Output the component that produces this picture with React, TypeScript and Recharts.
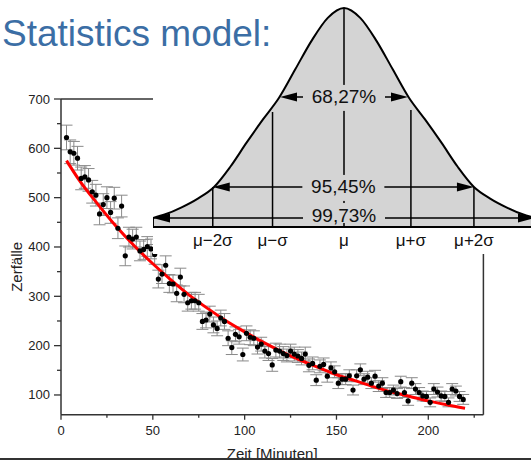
import React from "react";
import {
  ComposedChart,
  Scatter,
  ErrorBar,
  Line,
  XAxis,
  YAxis,
  Label,
  AreaChart,
  Area,
  ReferenceLine,
} from "recharts";

/* ---------- DATA: decay measurement ---------- */
const minutes = [
  3, 5, 7, 9, 11, 13, 15, 17, 19, 21, 23, 25, 27, 29, 31, 33, 35, 37, 39, 41,
  43, 45, 47, 49, 51, 53, 55, 57, 59, 61, 63, 65, 67, 69, 71, 73, 75, 77, 79, 81,
  83, 85, 87, 89, 91, 93, 95, 97, 99, 101, 103, 105, 107, 109, 111, 113, 115, 117,
  119, 121, 123, 125, 127, 129, 131, 133, 135, 137, 139, 141, 143, 145, 147, 149,
  151, 153, 155, 157, 159, 161, 163, 165, 167, 169, 171, 173, 175, 177, 179, 181,
  183, 185, 187, 189, 191, 193, 195, 197, 199, 201, 203, 205, 207, 209, 211, 213,
  215, 217, 219,
];

const counts = [
  622, 593, 590, 580, 539, 542, 536, 512, 505, 467, 486, 500, 470, 499, 438, 483,
  382, 420, 416, 420, 392, 395, 401, 396, 385, 335, 345, 363, 326, 325, 306, 339,
  304, 287, 291, 291, 287, 249, 252, 264, 242, 235, 256, 249, 215, 196, 223, 218,
  182, 225, 217, 215, 197, 203, 189, 184, 161, 191, 189, 184, 180, 189, 183, 179,
  174, 183, 160, 164, 130, 158, 162, 138, 155, 147, 124, 132, 132, 139, 110, 139,
  151, 132, 136, 124, 138, 118, 124, 105, 105, 110, 103, 127, 105, 88, 124, 112,
  105, 98, 97, 85, 112, 106, 98, 97, 85, 112, 108, 97, 91,
];

const countErrors = [
  25, 24, 24, 24, 23, 23, 23, 23, 22, 22, 22, 22, 22, 22, 21, 22, 20, 20, 20, 20,
  20, 20, 20, 20, 20, 18, 19, 19, 18, 18, 17, 18, 17, 17, 17, 17, 17, 16, 16, 16,
  16, 15, 16, 16, 15, 14, 15, 15, 13, 15, 15, 15, 14, 14, 14, 14, 13, 14, 14, 14,
  13, 14, 14, 13, 13, 14, 13, 13, 11, 13, 13, 12, 12, 12, 11, 11, 11, 12, 10, 12,
  12, 11, 12, 11, 12, 11, 11, 10, 10, 10, 10, 11, 10, 9, 11, 11, 10, 10, 10, 9,
  11, 10, 10, 10, 9, 11, 10, 10, 10,
];

const fitMinutes = [3, 10, 20, 30, 40, 50, 60, 70, 80, 90, 100, 110, 120, 130, 140, 150, 160, 170, 180, 190, 200, 210, 220];
const fitCounts = [575, 535, 487, 442, 402, 366, 333, 302, 275, 250, 228, 207, 188, 171, 156, 141, 129, 117, 106, 97, 88, 80, 73];

const xTicks = [0, 25, 50, 75, 100, 125, 150, 175, 200, 225];
const yTicks = [100, 150, 200, 250, 300, 350, 400, 450, 500, 550, 600, 650, 700];

/* ---------- DATA: normal distribution sketch ---------- */
const bellX = [-2.94, -2.75, -2.5, -2.25, -2, -1.75, -1.5, -1.25, -1, -0.75, -0.5, -0.25, 0, 0.25, 0.5, 0.75, 1, 1.25, 1.5, 1.75, 2, 2.25, 2.5, 2.75, 2.94];
const bellY = [0.041, 0.058, 0.09, 0.13, 0.183, 0.275, 0.385, 0.49, 0.59, 0.72, 0.85, 0.955, 1, 0.955, 0.85, 0.72, 0.59, 0.49, 0.385, 0.275, 0.183, 0.13, 0.09, 0.058, 0.041];

const sigmaTicks = [-2.02, -1.1, 0, 1.03, 2.0];
const sigmaLabels = ["μ−2σ", "μ−σ", "μ", "μ+σ", "μ+2σ"];
const sigmaTops = [0.183, 0.525, 1, 0.534, 0.183];

const bandLabels = ["68,27%", "95,45%", "99,73%"];
const bandHeights = [0.594, 0.183, 0.041];
const bandLeft = [-0.985, -2.02, -2.94];
const bandRight = [0.985, 2.0, 2.94];

/* ---------- STYLE ---------- */
const FONT = "'Liberation Sans', Arial, Helvetica, sans-serif";
const AXIS = "#333";
const GREY = "#d4d4d4";

const points = minutes.map((t, i) => ({ t, v: counts[i], e: countErrors[i] }));
const fit = fitMinutes.map((t, i) => ({ t, f: fitCounts[i] }));
const bell = bellX.map((s, i) => ({ s, h: bellY[i] }));

/* ---------- TICKS ---------- */
function LeftTick({ x, y, payload }: any) {
  const major = payload.value % 100 === 0;
  return (
    <g>
      <line x1={x} x2={x - (major ? 7 : 4)} y1={y} y2={y} stroke={AXIS} strokeWidth={1.3} />
      {major && (
        <text x={x - 11} y={y} dy={4.5} textAnchor="end" fontSize={13} fill="#222" fontFamily={FONT}>
          {payload.value}
        </text>
      )}
    </g>
  );
}

function RightTick({ x, y, payload }: any) {
  const major = payload.value % 100 === 0;
  return <line x1={x} x2={x - (major ? 6 : 3)} y1={y} y2={y} stroke={AXIS} strokeWidth={1.3} />;
}

function BottomTick({ x, y, payload }: any) {
  const major = payload.value % 50 === 0;
  return (
    <g>
      <line x1={x} x2={x} y1={y} y2={y + (major ? 5 : 3)} stroke={AXIS} strokeWidth={1.3} />
      {major && (
        <text x={x} y={y + 20} textAnchor="middle" fontSize={13} fill="#222" fontFamily={FONT}>
          {payload.value}
        </text>
      )}
    </g>
  );
}

function TopTick({ x, y, payload }: any) {
  const major = payload.value % 50 === 0;
  return <line x1={x} x2={x} y1={y} y2={y + (major ? 6 : 3)} stroke={AXIS} strokeWidth={1.3} />;
}

function SigmaTick({ x, y, payload }: any) {
  const i = sigmaTicks.indexOf(payload.value);
  return (
    <text x={x} y={y + 19} textAnchor="middle" fontSize={17} fill="#111" fontFamily={FONT}>
      {sigmaLabels[i]}
    </text>
  );
}

/* ---------- BELL ANNOTATIONS ---------- */
function BandArrow(props: any & { text: string; textShift: number }) {
  const { x1, x2, y1, text, textShift } = props;
  const cx = (x1 + x2) / 2;
  const cy = y1 + textShift;
  const head = 17;
  return (
    <g>
      <line x1={x1 + 4} x2={x2 - 4} y1={y1} y2={y1} stroke="#000" strokeWidth={1.5} />
      <polygon points={`${x1},${y1} ${x1 + head},${y1 - 4.5} ${x1 + head},${y1 + 4.5}`} fill="#000" />
      <polygon points={`${x2},${y1} ${x2 - head},${y1 - 4.5} ${x2 - head},${y1 + 4.5}`} fill="#000" />
      <rect x={cx - 41} y={cy - 12} width={82} height={textShift < 0 ? 20 : 26} fill={GREY} />
      <text x={cx} y={cy} dy={6.5} textAnchor="middle" fontSize={19} fill="#111" fontFamily={FONT}>
        {text}
      </text>
    </g>
  );
}

function BellSketch() {
  return (
    <AreaChart width={382} height={254} data={bell} margin={{ top: 8, right: 0, bottom: 0, left: 0 }}>
      <XAxis
        dataKey="s"
        type="number"
        domain={[-2.94, 2.94]}
        ticks={sigmaTicks}
        interval={0}
        height={27}
        tickLine={false}
        tickSize={0}
        tickMargin={0}
        axisLine={{ stroke: "#000", strokeWidth: 2 }}
        tick={<SigmaTick />}
      />
      <YAxis hide domain={[0, 1]} />
      <Area
        type="monotone"
        dataKey="h"
        stroke="#000"
        strokeWidth={2}
        fill={GREY}
        fillOpacity={1}
        isAnimationActive={false}
      />
      <ReferenceLine
        segment={[{ x: -2.94, y: 0 }, { x: -2.94, y: 0.041 }]}
        stroke="#000"
        strokeWidth={2}
      />
      {sigmaTicks.map((s, i) => (
        <ReferenceLine
          key={s}
          segment={[{ x: s, y: 0 }, { x: s, y: sigmaTops[i] }]}
          stroke="#000"
          strokeWidth={1.5}
        />
      ))}
      {bandLabels.map((text, i) => (
        <ReferenceLine
          key={text}
          segment={[{ x: bandLeft[i], y: bandHeights[i] }, { x: bandRight[i], y: bandHeights[i] }]}
          shape={(p: any) => <BandArrow {...p} text={text} textShift={i === 2 ? -3 : 0} />}
        />
      ))}
    </AreaChart>
  );
}

/* ---------- COMPONENT ---------- */
export default function App() {
  return (
    <div style={{ position: "relative", width: 531, height: 460, overflow: "hidden", background: "#fff", fontFamily: FONT }}>
      <style>{"body{margin:0}"}</style>

      <ComposedChart width={531} height={460} margin={{ top: 89, right: 37.6, bottom: 15.3, left: 21 }}>
        {/* AXES */}
        <XAxis
          dataKey="t"
          type="number"
          domain={[0, 230]}
          ticks={xTicks}
          interval={0}
          height={30}
          tickSize={0}
          tickMargin={0}
          tickLine={false}
          axisLine={{ stroke: AXIS, strokeWidth: 1.5 }}
          tick={<BottomTick />}
        >
          <Label value="Zeit [Minuten]" position="bottom" offset={4} style={{ fontSize: 15, fill: "#222", fontFamily: FONT }} />
        </XAxis>
        <XAxis
          xAxisId="top"
          orientation="top"
          type="number"
          domain={[0, 230]}
          ticks={xTicks}
          interval={0}
          height={10}
          tickSize={0}
          tickMargin={0}
          tickLine={false}
          axisLine={{ stroke: AXIS, strokeWidth: 1.5 }}
          tick={<TopTick />}
        />
        <YAxis
          type="number"
          domain={[60, 700]}
          ticks={yTicks}
          interval={0}
          width={40}
          tickSize={0}
          tickMargin={0}
          tickLine={false}
          axisLine={{ stroke: AXIS, strokeWidth: 1.5 }}
          tick={<LeftTick />}
        >
          <Label
            content={({ viewBox }: any) => (
              <text
                transform={`translate(${viewBox.x + 1}, ${viewBox.y + viewBox.height / 2 + 10}) rotate(-90)`}
                textAnchor="middle"
                fontSize={15}
                fill="#222"
                fontFamily={FONT}
              >
                Zerfälle
              </text>
            )}
          />
        </YAxis>
        <YAxis
          yAxisId="right"
          orientation="right"
          type="number"
          domain={[60, 700]}
          ticks={yTicks}
          interval={0}
          width={10}
          tickSize={0}
          tickMargin={0}
          tickLine={false}
          axisLine={{ stroke: AXIS, strokeWidth: 1.5 }}
          tick={<RightTick />}
        />

        {/* MEASUREMENTS */}
        <Scatter
          data={points}
          dataKey="v"
          fill="#000"
          isAnimationActive={false}
          shape={(p: any) => <circle cx={p.cx} cy={p.cy} r={2.6} fill="#000" />}
        >
          <ErrorBar dataKey="e" direction="y" width={6} stroke="#8a8a8a" strokeWidth={1} />
        </Scatter>

        {/* FIT */}
        <Line
          data={fit}
          dataKey="f"
          type="monotone"
          stroke="#ff0000"
          strokeWidth={3}
          dot={false}
          isAnimationActive={false}
        />
      </ComposedChart>

      {/* NORMAL DISTRIBUTION OVERLAY */}
      <div style={{ position: "absolute", left: 153, top: 0, width: 378, height: 254, background: "#fff", overflow: "hidden" }}>
        <BellSketch />
      </div>

      <div
        style={{
          position: "absolute",
          left: 2,
          top: 13.5,
          fontSize: 37,
          lineHeight: "40px",
          color: "#3b6ea5",
          fontFamily: FONT,
          whiteSpace: "nowrap",
        }}
      >
        Statistics model:
      </div>

      <div style={{ position: "absolute", left: 0, top: 458, width: 531, height: 2, background: "#333" }} />
    </div>
  );
}
